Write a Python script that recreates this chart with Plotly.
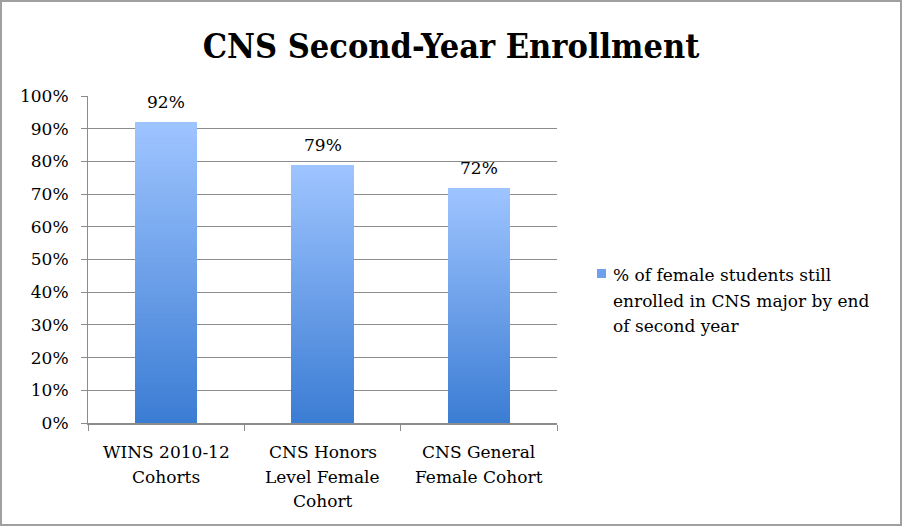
import plotly.graph_objects as go

categories = ["WINS 2010-12 Cohorts", "CNS Honors Level Female Cohort", "CNS General Female Cohort"]
category_lines = [["WINS 2010-12", "Cohorts"], ["CNS Honors", "Level Female", "Cohort"], ["CNS General", "Female Cohort"]]
values = [0.92, 0.79, 0.72]
series_name = "% of female students still enrolled in CNS major by end of second year"
series_lines = ["% of female students still", "enrolled in CNS major by end", "of second year"]
title = "CNS Second-Year Enrollment"

FONT = "DejaVu Serif"
TITLE_FONT = "DejaVu Serif Condensed, DejaVu Serif"
FS = 17
TOP = (158, 196, 255)
BOT = (60, 125, 212)
N = 60

W, H = 902, 527
L, R, T, B = 88, 345, 96, 104
pw = W - L - R
ph = H - T - B

def px_x(x):
    return (x - L) / pw

def px_y(y):
    return (H - B - y) / ph

fig = go.Figure()
for k in range(N):
    t = k / (N - 1)
    c = tuple(round(BOT[i] + (TOP[i] - BOT[i]) * t) for i in range(3))
    col = "rgb(%d,%d,%d)" % c
    fig.add_trace(go.Bar(
        x=categories, y=[v / N for v in values],
        marker=dict(color=col, line=dict(width=0)),
        name=series_name, showlegend=False, hoverinfo="skip",
    ))

# data labels
for cat, v in zip(categories, values):
    fig.add_annotation(x=cat, y=v, text="%d%%" % round(v * 100), showarrow=False,
                       yshift=20, yanchor="middle",
                       font=dict(family=FONT, size=FS, color="black"))

# category labels, one line each
for cat, lines in zip(categories, category_lines):
    for i, line in enumerate(lines):
        fig.add_annotation(x=cat, xref="x", yref="paper", y=px_y(452 + 24.5 * i),
                           yanchor="middle", text=line, showarrow=False,
                           font=dict(family=FONT, size=FS, color="black"))

# legend (manual)
for i, line in enumerate(series_lines):
    fig.add_annotation(xref="paper", yref="paper", x=px_x(611), y=px_y(275 + 25.5 * i),
                       xanchor="left", yanchor="middle", align="left", showarrow=False,
                       text=line, font=dict(family=FONT, size=FS, color="black"))
fig.add_shape(type="rect", xref="paper", yref="paper",
              x0=px_x(597), x1=px_x(606), y0=px_y(278), y1=px_y(269),
              line=dict(width=0), fillcolor="rgb(110,160,235)")

fig.update_layout(
    barmode="stack", bargap=0.6,
    width=W, height=H,
    margin=dict(l=L, r=R, t=T, b=B, autoexpand=False),
    paper_bgcolor="white", plot_bgcolor="white",
    font=dict(family=FONT, size=FS, color="black"),
    title=dict(text="<b>%s</b>" % title, x=0.5, xref="container", xanchor="center",
               y=1 - 46 / H, yanchor="middle", yref="container",
               font=dict(family=TITLE_FONT, size=34, color="black")),
    showlegend=False,
)
fig.update_yaxes(range=[0, 1], dtick=0.1, tickformat=".0%", showgrid=True,
                 gridcolor="#8c8c8c", gridwidth=1, showline=True, linecolor="#8c8c8c",
                 ticks="outside", ticklen=6, tickcolor="#8c8c8c", zeroline=False,
                 automargin=False, ticklabelstandoff=9, tickfont=dict(family=FONT, size=FS))
fig.update_xaxes(showline=True, linecolor="#8c8c8c", linewidth=1.5, ticks="outside",
                 tickson="boundaries", ticklen=6, tickcolor="#8c8c8c", automargin=False,
                 showticklabels=False)

# outer border
fig.add_shape(type="rect", xref="paper", yref="paper",
              x0=px_x(1), x1=px_x(901), y0=px_y(525), y1=px_y(1),
              line=dict(color="#a0a0a0", width=2), fillcolor="rgba(0,0,0,0)", layer="above")

fig.write_html("out.html", config={"displayModeBar": False},
               post_script="document.body.style.margin='0';document.body.style.padding='0';")
